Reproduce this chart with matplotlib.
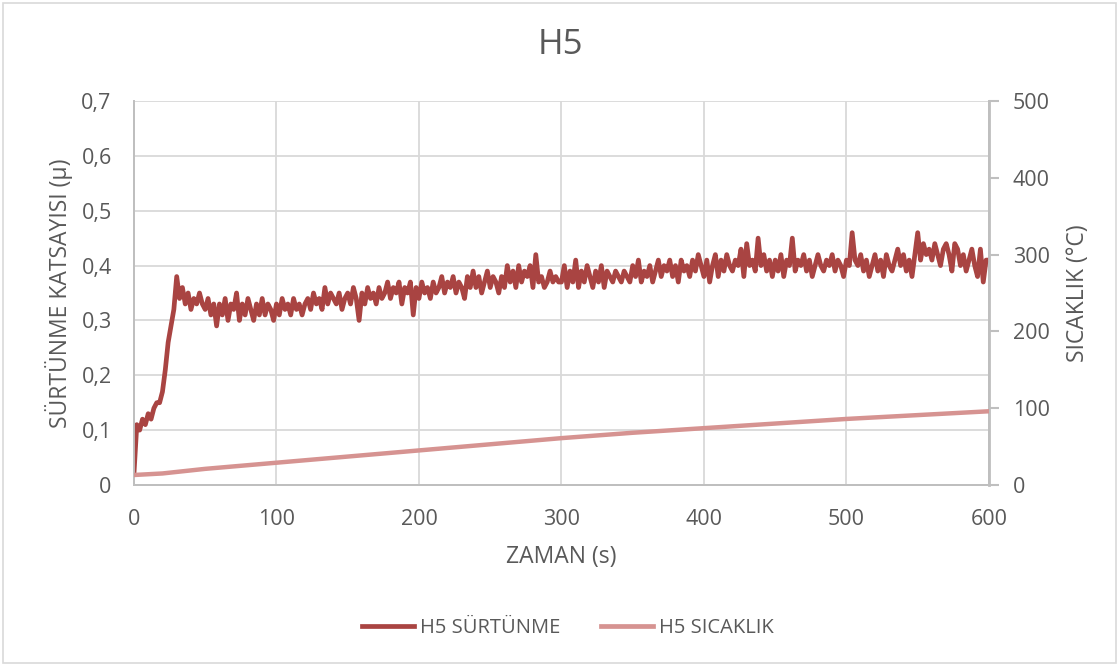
import numpy as np
import matplotlib.pyplot as plt
from matplotlib.patches import Rectangle

# friction coefficient, one reading every 2 s from 0 to 600 s
surtunme = [
    0.02, 0.11, 0.10, 0.12, 0.11, 0.13, 0.12, 0.14, 0.15, 0.15, 0.17, 0.21, 0.26, 0.29, 0.32,
    0.38, 0.34, 0.36, 0.33, 0.35, 0.32, 0.34, 0.33, 0.35, 0.33, 0.32, 0.34, 0.31, 0.33, 0.29,
    0.33, 0.31, 0.34, 0.30, 0.33, 0.32, 0.35, 0.30, 0.33, 0.31, 0.34, 0.32, 0.30, 0.33, 0.31,
    0.34, 0.31, 0.33, 0.32, 0.30, 0.33, 0.31, 0.34, 0.32, 0.33, 0.31, 0.34, 0.32, 0.33, 0.31,
    0.33, 0.34, 0.32, 0.35, 0.33, 0.34, 0.32, 0.36, 0.33, 0.35, 0.34, 0.33, 0.35, 0.32, 0.34,
    0.35, 0.33, 0.36, 0.34, 0.30, 0.35, 0.33, 0.36, 0.34, 0.35, 0.33, 0.36, 0.34, 0.35, 0.37,
    0.34, 0.36, 0.35, 0.37, 0.33, 0.36, 0.35, 0.37, 0.31, 0.36, 0.34, 0.37, 0.35, 0.36, 0.34,
    0.37, 0.35, 0.36, 0.38, 0.35, 0.37, 0.36, 0.38, 0.35, 0.37, 0.36, 0.34, 0.38, 0.36, 0.39,
    0.36, 0.38, 0.35, 0.37, 0.39, 0.36, 0.38, 0.37, 0.35, 0.38, 0.36, 0.40, 0.37, 0.39, 0.36,
    0.40, 0.37, 0.39, 0.38, 0.40, 0.36, 0.42, 0.37, 0.38, 0.36, 0.37, 0.39, 0.37, 0.38, 0.37,
    0.37, 0.40, 0.36, 0.39, 0.37, 0.41, 0.36, 0.39, 0.37, 0.40, 0.38, 0.36, 0.39, 0.37, 0.40,
    0.36, 0.39, 0.38, 0.37, 0.39, 0.38, 0.37, 0.39, 0.38, 0.37, 0.40, 0.38, 0.41, 0.37, 0.39,
    0.38, 0.40, 0.37, 0.39, 0.41, 0.38, 0.40, 0.39, 0.41, 0.38, 0.40, 0.37, 0.41, 0.39, 0.40,
    0.38, 0.41, 0.39, 0.42, 0.40, 0.38, 0.41, 0.37, 0.40, 0.42, 0.38, 0.41, 0.39, 0.42, 0.40,
    0.39, 0.41, 0.40, 0.43, 0.38, 0.44, 0.40, 0.41, 0.39, 0.45, 0.40, 0.42, 0.39, 0.41, 0.38,
    0.41, 0.39, 0.42, 0.38, 0.41, 0.40, 0.45, 0.39, 0.41, 0.40, 0.42, 0.39, 0.41, 0.38, 0.40,
    0.42, 0.40, 0.39, 0.41, 0.40, 0.42, 0.39, 0.41, 0.40, 0.38, 0.41, 0.40, 0.46, 0.41, 0.40,
    0.42, 0.39, 0.41, 0.38, 0.40, 0.42, 0.39, 0.41, 0.38, 0.42, 0.40, 0.39, 0.41, 0.43, 0.40,
    0.42, 0.39, 0.41, 0.38, 0.42, 0.46, 0.41, 0.44, 0.42, 0.43, 0.41, 0.44, 0.42, 0.40, 0.43,
    0.44, 0.42, 0.39, 0.44, 0.43, 0.40, 0.42, 0.39, 0.41, 0.43, 0.40, 0.38, 0.43, 0.37, 0.41,
    0.41,
]
zaman = np.arange(len(surtunme)) * 2

# temperature (°C)
zaman_sicaklik = [0, 20, 50, 100, 150, 200, 250, 300, 350, 400, 450, 500, 550, 600]
sicaklik = [13, 15, 21, 29, 37, 45, 53, 61, 68, 74, 80, 86, 91, 96]

yazi = '#595959'
izgara = '#D9D9D9'
eksen = '#BFBFBF'
plt.rcParams['font.family'] = ['Open Sans', 'DejaVu Sans']

fig = plt.figure(figsize=(11.2, 6.66), dpi=100)
fig.patches.append(Rectangle((0.003, 0.004), 0.993, 0.992, transform=fig.transFigure,
                             fill=False, edgecolor=izgara, linewidth=1.2))

ax = fig.add_axes([0.1196, 0.2718, 0.7634, 0.5765])
ax2 = ax.twinx()

ax.plot(zaman, surtunme, color='#A94442', linewidth=3.4, solid_joinstyle='round', zorder=3)
ax2.plot(zaman_sicaklik, sicaklik, color='#D69391', linewidth=3.2, zorder=3)

ax.set_xlim(0, 600)
ax.set_ylim(0, 0.7)
ax2.set_ylim(0, 500)
ax.set_xticks(range(0, 601, 100))
ax.set_yticks(np.arange(0, 0.71, 0.1))
ax.set_yticklabels(['0'] + [f'0,{i}' for i in range(1, 8)])
ax2.set_yticks(range(0, 501, 100))

ax.grid(True, color=izgara, linewidth=1.3)
ax.set_axisbelow(True)

for a in (ax, ax2):
    a.spines['top'].set_visible(False)
    for s in ('left', 'right', 'bottom'):
        a.spines[s].set_color(eksen)
        a.spines[s].set_linewidth(1.3)
ax2.spines['right'].set_linewidth(2)
ax.tick_params(axis='y', length=0, labelsize=15.5, colors=yazi, pad=16)
ax.tick_params(axis='x', length=0, labelsize=15.5, colors=yazi, pad=17)
ax2.tick_params(axis='y', length=7, width=1.5, color=eksen, labelsize=15.5, labelcolor=yazi, pad=10)

ax.set_xlabel('ZAMAN (s)', fontsize=16.5, color=yazi, labelpad=11)
ax.set_ylabel('SÜRTÜNME KATSAYISI (µ)', fontsize=16.5, color=yazi, labelpad=6)
ax2.set_ylabel('SICAKLIK (°C)', fontsize=16.5, color=yazi, labelpad=12)

fig.text(0.5, 0.932, 'H5', ha='center', va='center', fontsize=25, color=yazi)

h1, = ax.plot([], [], color='#A94442', linewidth=3.4)
h2, = ax.plot([], [], color='#D69391', linewidth=3.4)
fig.legend([h1, h2], ['H5 SÜRTÜNME', 'H5 SICAKLIK'], loc='center', bbox_to_anchor=(0.507, 0.057),
           ncol=2, frameon=False, fontsize=14.5, labelcolor=yazi, handlelength=2.6,
           columnspacing=2.0, handletextpad=0.3)

fig.savefig('out.png', dpi=100)
